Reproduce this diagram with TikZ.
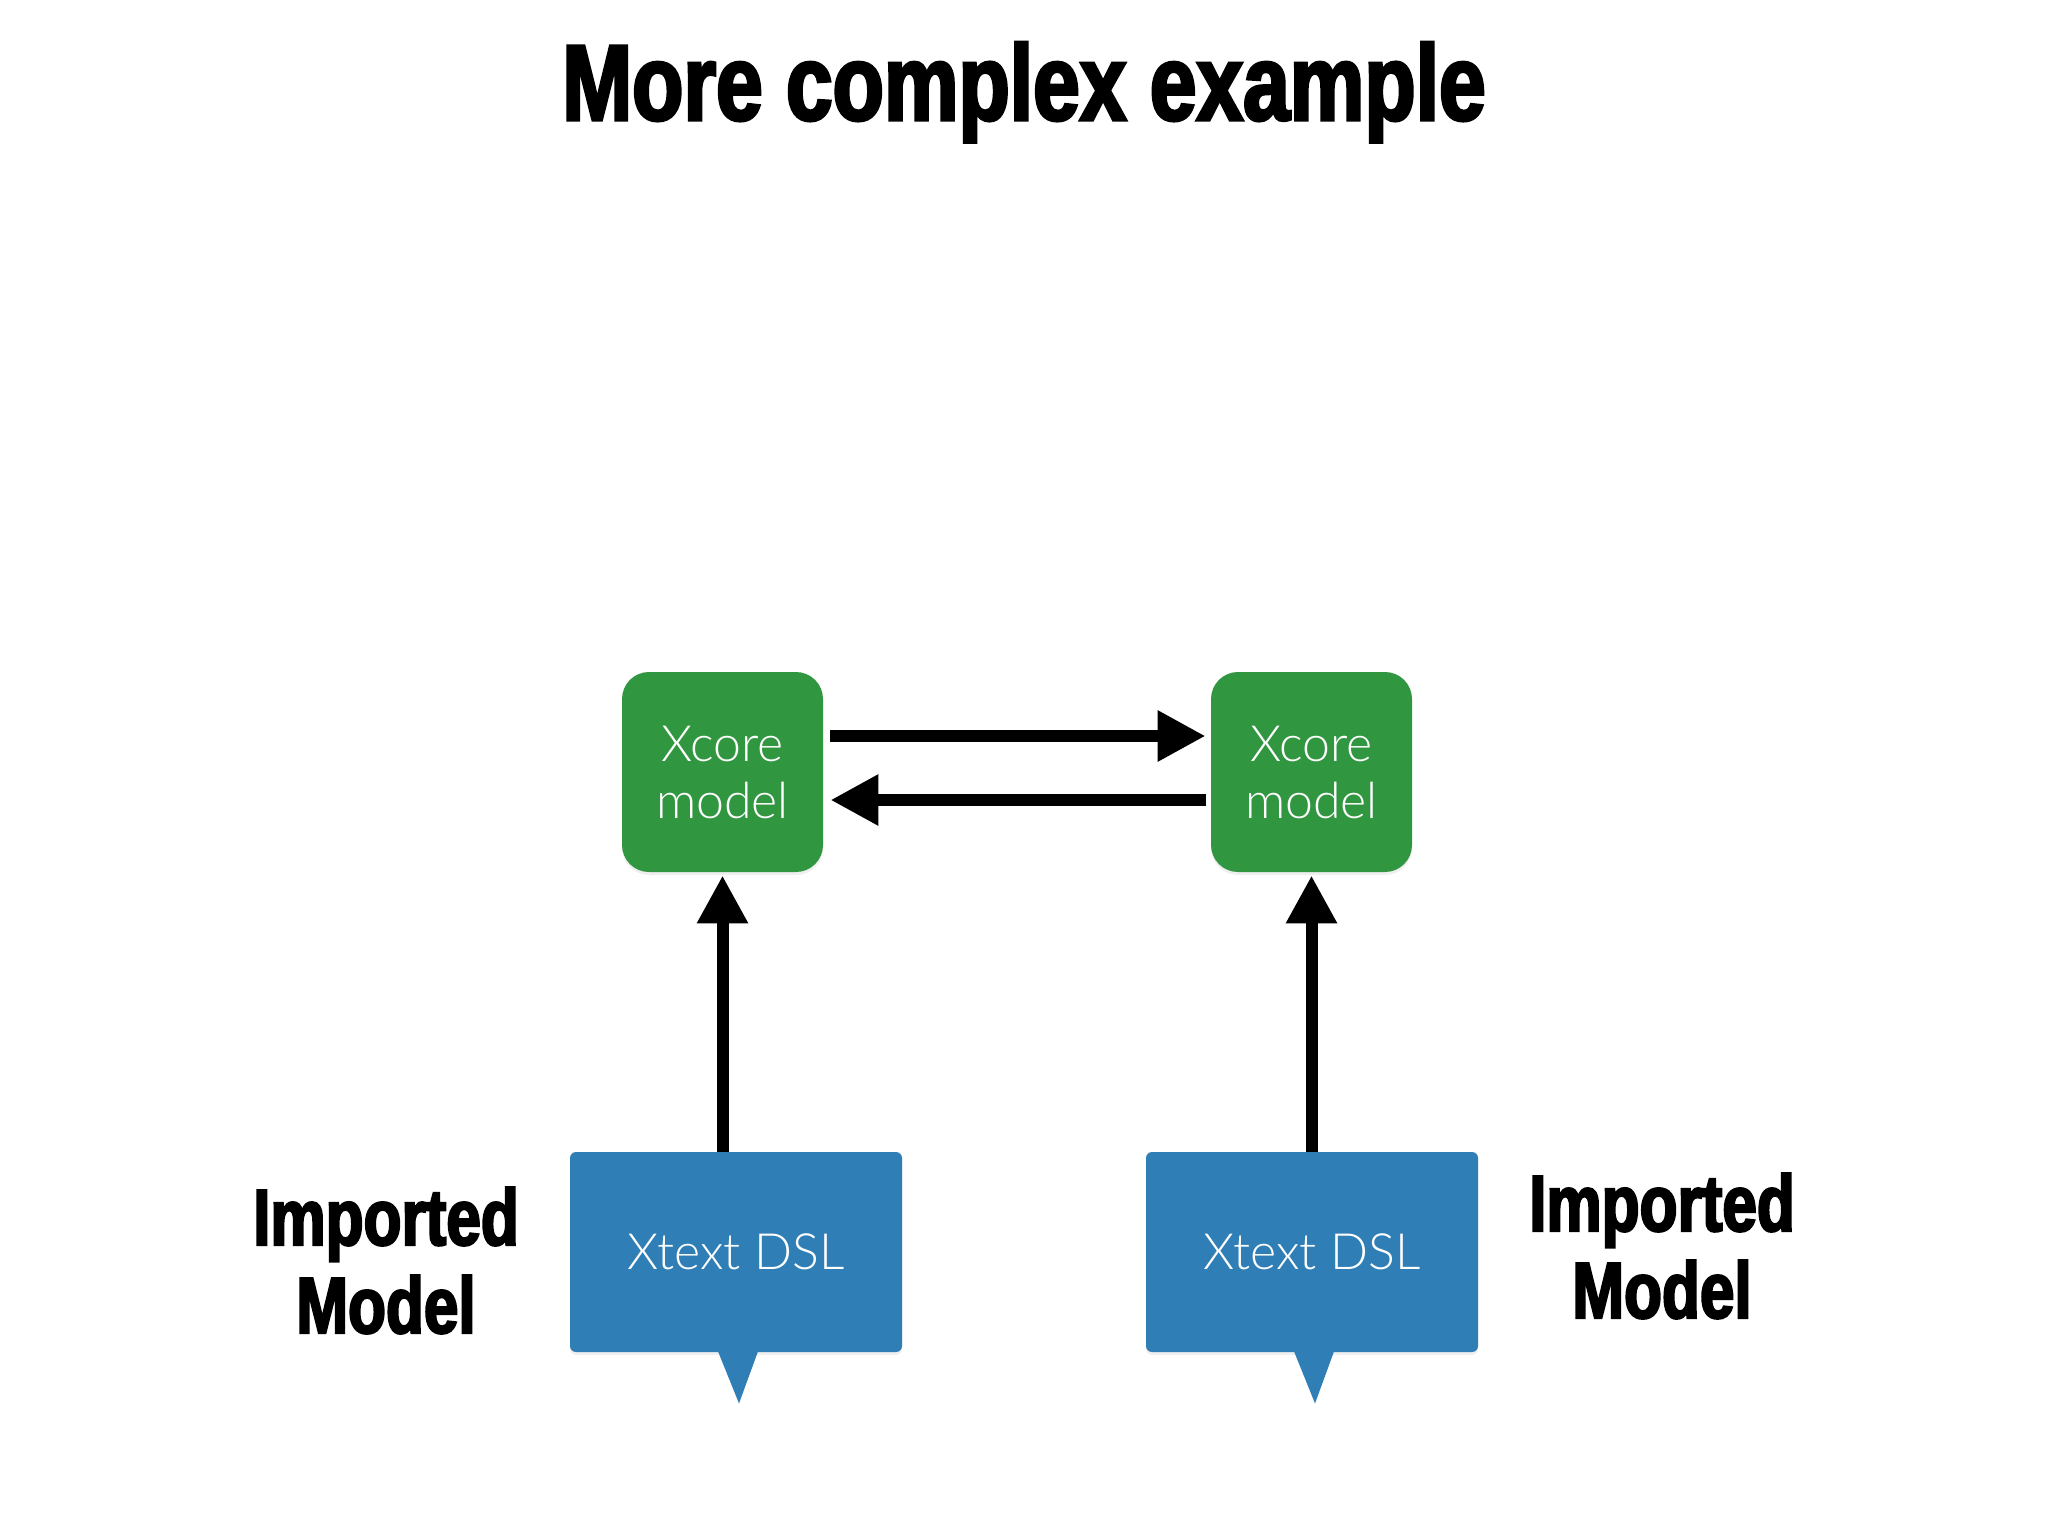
\documentclass[tikz,border=0pt]{standalone}
\usepackage{fontspec}
\setmainfont{Liberation Sans}
\newfontfamily\impactfont[FakeStretch=0.78,FakeBold=2.8]{Liberation Sans Bold}
\newfontfamily\lightfont{Lato Light}
\usetikzlibrary{arrows.meta,shadows}
\definecolor{xgreen}{RGB}{49,150,64}
\definecolor{xblue}{RGB}{47,126,181}
\begin{document}
\begin{tikzpicture}[x=0.5pt,y=-0.5pt,
  greenbox/.style={fill=xgreen, rounded corners=13.5pt, minimum width=100.5pt, minimum height=100pt, inner sep=0pt, text=white, font=\lightfont\fontsize{25}{28.5}\selectfont, align=center, drop shadow={opacity=0.12, shadow xshift=0pt, shadow yshift=-1.5pt}},
  bluebox/.style={fill=xblue, rounded corners=3pt, minimum width=166pt, minimum height=100pt, inner sep=0pt, text=white, font=\lightfont\fontsize{25}{28.5}\selectfont, drop shadow={opacity=0.12, shadow xshift=0pt, shadow yshift=-1.5pt}},
  arr/.style={line width=6pt, -{Triangle[length=24pt,width=24pt]}},
  heading/.style={font=\impactfont\fontsize{53.8}{60}\selectfont, anchor=base, inner sep=0pt},
  sidelabel/.style={font=\impactfont\fontsize{39.8}{44}\selectfont, anchor=base, inner sep=0pt}]
\useasboundingbox[fill=white] (0,0) rectangle (2048,1536);
\node[heading] (title) at (1024,120) {More complex example};
\node[greenbox] (g1) at (722.5,772) {Xcore\\model};
\node[greenbox] (g2) at (1311.5,772) {Xcore\\model};
\node[bluebox] (b1) at (736,1252) {Xtext DSL};
\node[bluebox] (b2) at (1312,1252) {Xtext DSL};
\fill[xblue] ([xshift=-9pt,yshift=0.5pt]b1.south) -- ([xshift=1.5pt,yshift=-25.5pt]b1.south) -- ([xshift=11pt,yshift=0.5pt]b1.south) -- cycle;
\fill[xblue] ([xshift=-9pt,yshift=0.5pt]b2.south) -- ([xshift=1.5pt,yshift=-25.5pt]b2.south) -- ([xshift=11pt,yshift=0.5pt]b2.south) -- cycle;
\node[sidelabel] (l1a) at (386,1245) {Imported};
\node[sidelabel] (l1b) at (386,1333) {Model};
\node[sidelabel] (l2a) at (1662,1231) {Imported};
\node[sidelabel] (l2b) at (1662,1318) {Model};
\draw[arr] (b1.north -| g1.south) -- ([yshift=-1.5pt]g1.south);
\draw[arr] (b2.north -| g2.south) -- ([yshift=-1.5pt]g2.south);
\draw[arr] ([xshift=3.5pt,yshift=18pt]g1.east) -- ([xshift=-2.5pt,yshift=18pt]g2.west);
\draw[arr] ([xshift=-2.5pt,yshift=-14pt]g2.west) -- ([xshift=3.5pt,yshift=-14pt]g1.east);
\end{tikzpicture}
\end{document}
